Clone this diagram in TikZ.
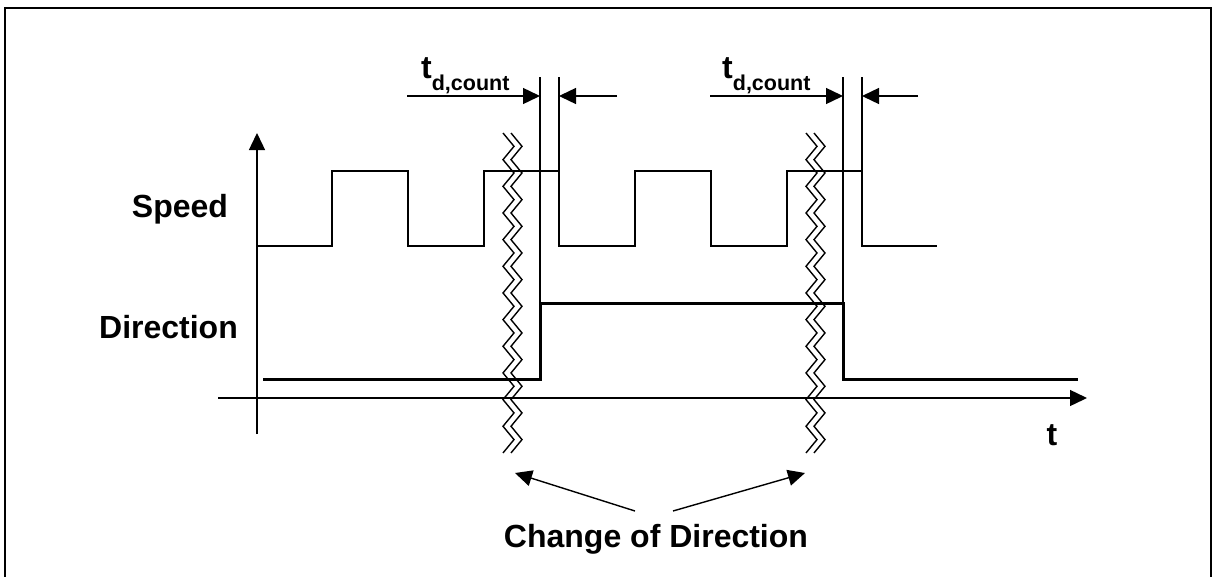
\documentclass[tikz,border=0pt]{standalone}
\usepackage{fontspec}
\setmainfont{Liberation Sans}
\usetikzlibrary{arrows.meta}

\begin{document}
\begin{tikzpicture}[x=1pt, y=-1pt,
  lbl/.style={inner sep=0pt, font=\bfseries\fontsize{32}{36}\selectfont},
  tip/.style={-{Triangle[length=17pt,width=16pt]}},
  thinln/.style={line width=1.4pt},
  sig/.style={line width=2.2pt},
  dirsig/.style={line width=3pt}]
\useasboundingbox (0,0) rectangle (1213,576);
\draw[line width=2pt] (5,8) rectangle (1211,590);

% axes
\coordinate (o) at (257,434);
\coordinate (ytop) at (257,133);
\coordinate (tl) at (218,398);
\coordinate (tr) at (1087,398);
\draw[thinln, tip] (o) -- (ytop);
\draw[thinln, tip] (tl) -- (tr);

% speed and direction signals
\draw[sig] (257,246) -- (332,246) -- (332,171) -- (408,171) -- (408,246) -- (484,246) -- (484,171)
  -- (559,171) -- (559,246) -- (635,246) -- (635,171) -- (711,171) -- (711,246) -- (787,246)
  -- (787,171) -- (862,171) -- (862,246) -- (937,246);
\draw[dirsig] (263,379) -- (540,379) -- (540,303) -- (843,303) -- (843,379) -- (1078,379);

\node[lbl, anchor=base] (speed) at (180,217) {Speed};
\node[lbl, anchor=base] (dir) at (168.5,338) {Direction};
\node[lbl, anchor=base] (t) at (1052,445) {t};

% t_d,count markers
\foreach \a/\b/\l/\r/\n in {540/559/407/617/1, 843/862/710/918/2} {
  \coordinate (a\n) at (\a,77);
  \coordinate (b\n) at (\b,77);
  \draw[thinln] (a\n) -- (\a,303);
  \draw[thinln] (b\n) -- (\b,171);
  \draw[thinln, tip] (\l,96) -- (\a,96);
  \draw[thinln, tip] (\r,96) -- (\b,96);
}
\node[inner sep=0pt, anchor=base west] (td1) at (421,78)
  {\bfseries\fontsize{32}{36}\selectfont t\raisebox{-12pt}{\fontsize{21.5}{24}\selectfont d,count}};
\node[inner sep=0pt, anchor=base west] (td2) at (722,78)
  {\bfseries\fontsize{32}{36}\selectfont t\raisebox{-12pt}{\fontsize{21.5}{24}\selectfont d,count}};

% breaks
\foreach \x in {503,511,806,814}
  \draw[line width=1.4pt] (\x,133) \foreach \i in {1,...,24}{ -- ({\x+11*mod(\i,2)},{133+13.33*\i}) };
\coordinate (brk1) at (515,473);
\coordinate (brk2) at (805,473);

\node[lbl, anchor=base] (chg) at (656,547) {Change of Direction};
\draw[thinln, tip] (635,511) -- (brk1);
\draw[thinln, tip] (673,511) -- (brk2);
\end{tikzpicture}
\end{document}
